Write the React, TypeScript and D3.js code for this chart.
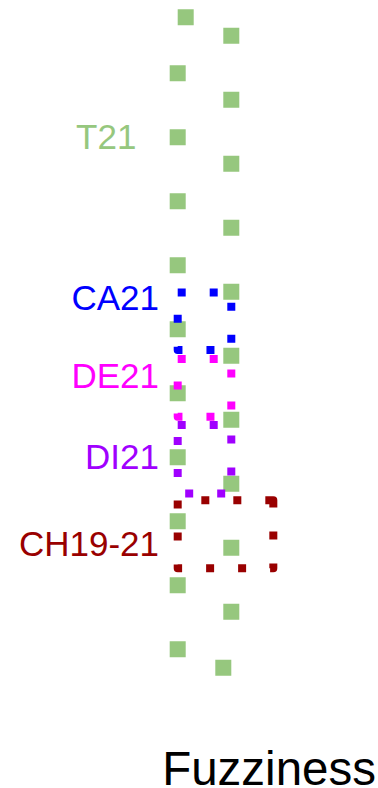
import React from "react";
import { scaleLinear, path as d3path } from "d3";

// groups, top to bottom
const groups = ["T21", "CA21", "DE21", "DI21", "CH19-21"];
const colors = ["#96c77e", "#0000ff", "#ff00ff", "#a000ff", "#990000"];

// fuzziness extent of each group (from -> to, the direction the outline is traced)
const xFrom = [0, 0, 0, 0, 1.784];
const xTo = [1, 1, 1, 1, 0];

// vertical extent of each group
const yTop = [0, 42.3, 52.55, 62.7, 74.25];
const yBottom = [100, 51.15, 61.4, 73.2, 84.7];

// where each group's label sits
const labelAt = [20.3, 45.0, 57.0, 69.45, 82.75];

const width = 378;
const height = 788;

export default function App() {
  const xScale = scaleLinear().domain([0, 1]).range([177.7, 231.3]);
  const yScale = scaleLinear().domain([0, 100]).range([17.3, 667.7]);

  const outline = (i: number) => {
    const p = d3path();
    const a = xScale(xFrom[i]);
    const b = xScale(xTo[i]);
    const t = yScale(yTop[i]);
    const btm = yScale(yBottom[i]);
    p.moveTo(a, t);
    p.lineTo(b, t);
    p.lineTo(b, btm);
    p.lineTo(a, btm);
    p.closePath();
    return p.toString();
  };

  return (
    <svg
      width={width}
      height={height}
      style={{ position: "absolute", left: 0, top: 0, background: "#fff" }}
      fontFamily="'Liberation Sans', Arial, sans-serif"
    >
      {groups.map((g, i) => (
        <path
          key={g}
          d={outline(i)}
          fill="none"
          stroke={colors[i]}
          strokeWidth={i === 0 ? 16 : 8}
          strokeDasharray={i === 0 ? "16 48" : "8 24"}
          strokeLinejoin={i === 0 ? "miter" : "round"}
        />
      ))}
      {groups.map((g, i) => (
        <text
          key={"l" + g}
          x={i === 0 ? 136.4 : 159}
          y={yScale(labelAt[i])}
          textAnchor="end"
          fontSize={35}
          fill={colors[i]}
        >
          {g}
        </text>
      ))}
      <text x={376} y={785} textAnchor="end" fontSize={47.5} fill="#000">
        Fuzziness
      </text>
    </svg>
  );
}
